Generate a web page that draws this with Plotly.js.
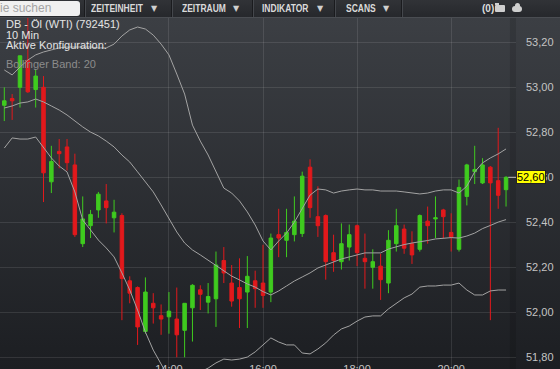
<!DOCTYPE html>
<html>
<head>
<meta charset="utf-8">
<script src="https://cdn.plot.ly/plotly-3.0.1.min.js"></script>
<style>
  html, body { margin:0; padding:0; width:560px; height:369px; overflow:hidden; background:#1e2024; }
  #bg { position:absolute; left:0; top:18px; width:560px; height:351px; background:linear-gradient(#3c3f44, #1c1e22); }
  #chart { position:absolute; left:0; top:0; width:560px; height:392px; }
  #toolbar { position:absolute; left:0; top:0; width:560px; height:17px; background:linear-gradient(#313337,#26282c); border-bottom:1px solid #4a4d52; font-family:"Liberation Sans", Arial, sans-serif; z-index:5; }
  #search { position:absolute; left:-4px; top:1px; width:84px; height:15px; background:#f0f0f0; border-radius:3px; color:#a4a4a4; font-size:12px; line-height:15px; }
  #search span { position:absolute; left:4px; }
  .sep { position:absolute; top:0; width:1px; height:17px; background:#1a1b1e; border-right:1px solid #44474c; }
  .btn { position:absolute; top:3px; color:#dadada; font-weight:bold; font-size:10px; line-height:11px; transform:scaleX(0.85); transform-origin:left; white-space:nowrap; }
  .arr { position:absolute; top:3px; color:#cfcfcf; font-size:8px; line-height:11px; font-family:"DejaVu Sans", sans-serif; }
  #cnt { position:absolute; left:482px; top:3px; color:#dcdcdc; font-size:10px; font-weight:bold; line-height:11px; }
  #folder { position:absolute; left:495px; top:5px; width:10px; height:7px; background:#cfcfcf; border-radius:1px; }
  #folder:before { content:""; position:absolute; left:0; top:-2px; width:4px; height:2px; background:#cfcfcf; }
  #cloud { position:absolute; left:512px; top:6px; width:10px; height:6px; background:#cfcfcf; border-radius:3px; }
  #cloud:before { content:""; position:absolute; left:3px; top:-3px; width:5px; height:5px; background:#cfcfcf; border-radius:50%; }
</style>
</head>
<body>
<div id="bg"></div>
<div id="chart"></div>
<div id="toolbar">
  <div id="search"><span>ie suchen</span></div>
  <div class="sep" style="left:84px"></div>
  <div class="btn" style="left:91px">ZEITEINHEIT</div><div class="arr" style="left:151px">▼</div>
  <div class="sep" style="left:171px"></div>
  <div class="btn" style="left:182px">ZEITRAUM</div><div class="arr" style="left:233px">▼</div>
  <div class="sep" style="left:252px"></div>
  <div class="btn" style="left:262px">INDIKATOR</div><div class="arr" style="left:317px">▼</div>
  <div class="sep" style="left:334px"></div>
  <div class="btn" style="left:346px">SCANS</div><div class="arr" style="left:383px">▼</div>
  <div class="sep" style="left:401px"></div>
  <div id="cnt">(0)</div>
  <div id="folder"></div>
  <div id="cloud"></div>
</div>
<script>
const times = ["10:30","10:40","10:50","11:00","11:10","11:20","11:30","11:40","11:50","12:00",
  "12:10","12:20","12:30","12:40","12:50","13:00","13:10","13:20","13:30","13:40",
  "13:50","14:00","14:10","14:20","14:30","14:40","14:50","15:00","15:10","15:20",
  "15:30","15:40","15:50","16:00","16:10","16:20","16:30","16:40","16:50","17:00",
  "17:10","17:20","17:30","17:40","17:50","18:00","18:10","18:20","18:30","18:40",
  "18:50","19:00","19:10","19:20","19:30","19:40","19:50","20:00","20:10","20:20",
  "20:30","20:40","20:50","21:00","21:10"];

const openP = [52.92,52.95,53.00,53.12,52.99,53.00,52.58,52.715,52.735,52.655,
  52.305,52.385,52.455,52.495,52.42,52.43,52.14,52.11,51.915,52.04,
  51.985,51.98,51.97,51.92,52.02,52.10,52.045,52.06,52.23,52.13,
  52.11,52.09,52.14,52.13,52.09,52.345,52.32,52.345,52.35,52.645,
  52.425,52.43,52.265,52.225,52.29,52.385,52.24,52.20,52.205,52.13,
  52.305,52.37,52.305,52.28,52.405,52.415,52.455,52.355,52.28,52.515,
  52.625,52.575,52.645,52.585,52.545];
const highP = [53.00,52.97,53.14,53.32,53.08,53.05,52.74,52.77,52.77,52.705,
  52.515,52.455,52.535,52.57,52.50,52.44,52.16,52.115,52.155,52.085,
  52.035,52.09,52.11,52.04,52.125,52.12,52.13,52.27,52.29,52.21,
  52.24,52.25,52.185,52.30,52.35,52.46,52.46,52.515,52.625,52.68,
  52.56,52.435,52.345,52.395,52.39,52.39,52.35,52.28,52.26,52.365,
  52.46,52.39,52.36,52.435,52.47,52.515,52.46,52.44,52.59,52.66,
  52.74,52.685,52.65,52.82,52.605];
const lowP = [52.85,52.855,52.91,52.975,52.91,52.49,52.53,52.64,52.63,52.335,
  52.29,52.33,52.42,52.395,52.355,51.965,52.04,51.855,51.905,51.95,
  51.90,51.905,51.80,51.80,51.87,52.01,51.995,51.935,52.13,52.025,
  51.93,51.93,52.02,52.02,52.045,52.245,52.245,52.315,52.335,52.42,
  52.335,52.145,52.18,52.19,52.23,52.205,52.105,52.105,52.055,52.085,
  52.27,52.26,52.215,52.27,52.305,52.33,52.33,52.27,52.27,52.475,
  52.57,52.57,51.965,52.46,52.47];
const closeP = [52.94,52.94,53.14,52.98,53.05,52.62,52.67,52.705,52.665,52.345,
  52.415,52.435,52.525,52.465,52.445,52.15,52.085,51.935,52.09,52.02,
  51.97,52.005,51.90,52.04,52.12,52.08,52.07,52.21,52.175,52.05,
  52.06,52.16,52.105,52.075,52.33,52.33,52.355,52.405,52.605,52.465,
  52.385,52.225,52.23,52.305,52.345,52.265,52.225,52.225,52.145,52.32,
  52.385,52.285,52.255,52.43,52.385,52.42,52.425,52.335,52.555,52.655,
  52.635,52.655,52.575,52.52,52.60];

const bbUpper = [53.077,53.055,53.090,53.121,53.144,53.157,53.166,53.175,53.179,53.179,
  53.179,53.179,53.175,53.175,53.192,53.228,53.255,53.268,53.259,53.232,
  53.192,53.144,53.059,52.970,52.832,52.761,52.699,52.624,52.552,52.530,
  52.495,52.446,52.388,52.317,52.277,52.317,52.352,52.401,52.464,52.521,
  52.548,52.544,52.530,52.539,52.544,52.548,52.544,52.544,52.539,52.539,
  52.539,52.535,52.530,52.526,52.530,52.539,52.544,52.544,52.530,52.561,
  52.624,52.664,52.686,52.704,52.726];
const bbMiddle = [52.908,52.917,52.930,52.935,52.948,52.935,52.917,52.899,52.877,52.850,
  52.824,52.801,52.784,52.761,52.735,52.699,52.668,52.624,52.579,52.535,
  52.477,52.415,52.357,52.308,52.277,52.255,52.232,52.206,52.184,52.161,
  52.144,52.126,52.112,52.092,52.077,52.095,52.117,52.139,52.157,52.175,
  52.197,52.210,52.224,52.237,52.246,52.255,52.264,52.264,52.264,52.281,
  52.292,52.301,52.308,52.312,52.319,52.326,52.330,52.332,52.330,52.339,
  52.352,52.372,52.386,52.401,52.412];
const bbLower = [52.730,52.775,52.770,52.770,52.779,52.735,52.686,52.650,52.624,52.535,
  52.410,52.366,52.321,52.286,52.246,52.175,52.099,52.010,51.912,51.832,
  51.770,51.708,51.664,51.655,51.699,51.735,51.752,51.775,51.792,51.788,
  51.792,51.801,51.824,51.855,51.886,51.868,51.855,51.855,51.819,51.815,
  51.837,51.864,51.899,51.926,51.939,51.961,51.979,51.984,51.984,52.015,
  52.041,52.064,52.081,52.112,52.117,52.117,52.121,52.121,52.130,52.099,
  52.077,52.077,52.095,52.099,52.099];

const xTickLabels = ["14:00","16:00","18:00","20:00"];
const headerLines = ["DB - Öl (WTI) (792451)", "10 Min", "Aktive Konfiguration:"];
const indicatorLabel = "Bollinger Band: 20";

const bandLine = {color:'#a3a3a3', width:1};
const traces = [
  {type:'scatter', mode:'lines', x:times, y:bbUpper, line:bandLine, hoverinfo:'skip', showlegend:false},
  {type:'scatter', mode:'lines', x:times, y:bbMiddle, line:bandLine, hoverinfo:'skip', showlegend:false},
  {type:'scatter', mode:'lines', x:times, y:bbLower, line:bandLine, hoverinfo:'skip', showlegend:false},
  {type:'candlestick', x:times, open:openP, high:highP, low:lowP, close:closeP,
   increasing:{line:{color:'#3fcb1f', width:1}, fillcolor:'#3fcb1f'},
   decreasing:{line:{color:'#e2191c', width:1}, fillcolor:'#e2191c'},
   whiskerwidth:0, showlegend:false}
];

const lastClose = closeP[closeP.length-1];
const fontFam = '"Liberation Sans", Arial, sans-serif';
const annotations = [];
headerLines.forEach((t, k) => {
  annotations.push({text:t, xref:'paper', yref:'paper', x:0, y:1, xanchor:'left', yanchor:'top',
    xshift:4, yshift:2 - k*10.5, showarrow:false, font:{family:fontFam, size:11, color:'#e4e4e4'}});
});
annotations.push({text:indicatorLabel, xref:'paper', yref:'paper', x:0, y:1, xanchor:'left', yanchor:'top',
  xshift:4, yshift:-38, showarrow:false, font:{family:fontFam, size:11, color:'#8c8c8c'}});
annotations.push({text:lastClose.toFixed(2).replace('.', ','), xref:'paper', yref:'y', x:1, y:lastClose,
  xanchor:'left', yanchor:'middle', xshift:0, showarrow:false, bgcolor:'#ffff00', bordercolor:'#222',
  borderwidth:1, borderpad:0, font:{family:fontFam, size:11, color:'#000'}});

const layout = {
  width:560, height:392,
  margin:{l:0, r:44, t:18, b:14},
  paper_bgcolor:'rgba(0,0,0,0)', plot_bgcolor:'rgba(0,0,0,0)',
  separators:',.',
  showlegend:false,
  boxgap:0.36,
  font:{family:fontFam, size:11, color:'#c4c4c4'},
  xaxis:{type:'category', range:[-0.55, 65.27], rangeslider:{visible:false},
    tickvals:xTickLabels, ticktext:xTickLabels, showgrid:true, gridcolor:'rgba(255,255,255,0.10)',
    zeroline:false, showline:false, ticks:'', ticklabelposition:'inside', automargin:false,
    tickfont:{family:fontFam, size:11, color:'#c4c4c4'}, fixedrange:true},
  yaxis:{side:'right', range:[51.708, 53.308], dtick:0.2, tick0:0, tickformat:'.2f',
    showgrid:true, gridcolor:'rgba(255,255,255,0.10)', zeroline:false, showline:false, ticks:'',
    ticklabelstandoff:9, automargin:false, tickfont:{family:fontFam, size:11, color:'#c4c4c4'}, fixedrange:true},
  shapes:[
    {type:'rect', xref:'x', yref:'paper', x0:64.5, x1:65.27, y0:0, y1:1, fillcolor:'rgba(0,0,0,0.12)', line:{width:0}, layer:'below'},
    {type:'line', xref:'paper', yref:'y', x0:0.985, x1:1, y0:lastClose, y1:lastClose, line:{color:'#bdbdbd', width:1}}
  ],
  annotations:annotations
};

Plotly.newPlot('chart', traces, layout, {displayModeBar:false, staticPlot:true});
</script>
</body>
</html>
